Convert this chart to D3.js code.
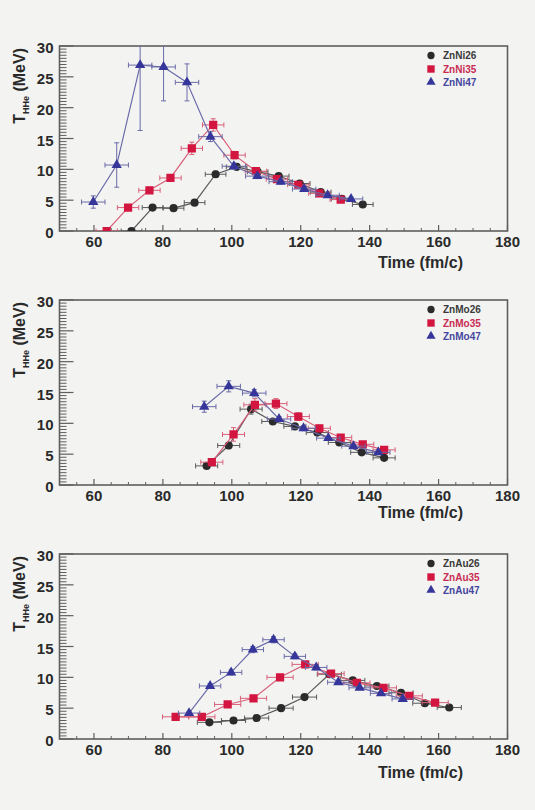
<!DOCTYPE html>
<head>
<meta charset="utf-8">
<title>THHe vs time</title>
<script src="https://d3js.org/d3.v7.min.js"></script>
</head>
<style>
body { margin: 0; background: #f3f4f2; }
svg { display: block; }
text { font-family: 'Liberation Sans', Arial, Helvetica, sans-serif; font-weight: bold; }
</style>
<body>
<svg></svg>
<script>
// ---- data ----
var timeTicks = [60, 80, 100, 120, 140, 160, 180];
var tempTicks = [0, 5, 10, 15, 20, 25, 30];

// ZnNi
var ni26Time = [70.9, 77.0, 83.1, 89.2, 95.3, 101.4, 107.5, 113.6, 119.7, 125.8, 131.9, 138.0];
var ni26Temp = [0.0, 3.8, 3.7, 4.6, 9.2, 10.4, 9.6, 8.9, 7.7, 6.3, 5.2, 4.3];
var ni26Err  = [0.2, 0.3, 0.3, 0.4, 0.5, 0.5, 0.4, 0.4, 0.4, 0.3, 0.3, 0.3];
var ni35Time = [63.7, 69.9, 76.1, 82.2, 88.4, 94.6, 100.8, 107.0, 113.1, 119.3, 125.4, 131.6];
var ni35Temp = [0.0, 3.8, 6.6, 8.6, 13.4, 17.2, 12.3, 9.7, 8.4, 7.5, 6.1, 5.1];
var ni35Err  = [0.2, 0.3, 0.5, 0.5, 1.0, 1.0, 0.6, 0.5, 0.4, 0.4, 0.3, 0.3];
var ni47Time = [59.8, 66.6, 73.4, 80.2, 87.0, 93.8, 100.6, 107.4, 114.2, 121.0, 127.8, 134.6];
var ni47Temp = [4.7, 10.7, 26.9, 26.6, 24.1, 15.3, 10.5, 8.9, 8.0, 6.8, 5.8, 5.2];
var ni47Err  = [1.0, 3.6, 10.6, 5.5, 3.0, 0.8, 0.5, 0.4, 0.4, 0.3, 0.3, 0.3];

// ZnMo
var mo26Time = [92.7, 99.1, 105.6, 111.9, 118.3, 124.8, 131.2, 137.7, 144.2];
var mo26Temp = [3.1, 6.4, 12.3, 10.3, 9.5, 8.5, 6.9, 5.3, 4.4];
var mo26Err  = [0.4, 0.5, 0.8, 0.4, 0.4, 0.4, 0.3, 0.3, 0.3];
var mo35Time = [94.2, 100.5, 106.7, 112.8, 119.3, 125.4, 131.6, 138.0, 144.2];
var mo35Temp = [3.7, 8.2, 13.0, 13.2, 11.1, 9.2, 7.7, 6.6, 5.7];
var mo35Err  = [0.5, 1.1, 1.0, 0.8, 0.6, 0.5, 0.4, 0.4, 0.4];
var mo47Time = [92.0, 99.1, 106.5, 113.7, 120.8, 128.0, 135.3, 142.5];
var mo47Temp = [12.7, 16.0, 14.9, 10.7, 9.2, 7.6, 6.3, 5.3];
var mo47Err  = [0.9, 0.9, 0.6, 0.4, 0.4, 0.3, 0.3, 0.3];

// ZnAu
var au26Time = [93.5, 100.5, 107.2, 114.3, 121.1, 128.3, 135.1, 142.1, 149.1, 156.0, 163.1];
var au26Temp = [2.7, 3.0, 3.4, 5.0, 6.8, 10.5, 9.5, 8.6, 7.5, 5.8, 5.1];
var au26Err  = [0.3, 0.3, 0.3, 0.3, 0.3, 0.4, 0.4, 0.3, 0.3, 0.3, 0.3];
var au35Time = [83.7, 91.3, 98.8, 106.3, 114.0, 121.3, 128.8, 136.3, 144.0, 151.5, 159.0];
var au35Temp = [3.6, 3.6, 5.6, 6.6, 10.0, 12.1, 10.6, 9.1, 8.3, 7.0, 5.9];
var au35Err  = [0.3, 0.3, 0.3, 0.3, 0.4, 0.4, 0.4, 0.3, 0.3, 0.3, 0.3];
var au47Time = [87.6, 93.7, 99.8, 106.1, 112.1, 118.3, 124.5, 130.9, 137.1, 143.3, 149.6];
var au47Temp = [4.2, 8.6, 10.8, 14.5, 16.1, 13.4, 11.6, 9.2, 8.3, 7.4, 6.5];
var au47Err  = [0.3, 0.4, 0.4, 0.5, 0.5, 0.4, 0.4, 0.3, 0.3, 0.3, 0.3];

var niNames = ['ZnNi26', 'ZnNi35', 'ZnNi47'];
var moNames = ['ZnMo26', 'ZnMo35', 'ZnMo47'];
var auNames = ['ZnAu26', 'ZnAu35', 'ZnAu47'];
// half width of the time bins (horizontal error bars)
var niTimeErr = [3.0, 3.1, 3.4];
var moTimeErr = [3.2, 3.2, 3.4];
var auTimeErr = [3.5, 3.8, 3.1];

// ---- styles ----
var styles = [
    { marker: '#2b2b2b', line: '#5a5a5a', text: '#3a3a3a', shape: 'circle' },
    { marker: '#d3163f', line: '#d9607a', text: '#c92c52', shape: 'square' },
    { marker: '#36369a', line: '#6a6aa8', text: '#4646a0', shape: 'triangle' }
];

var panels = [
    { top: 46,  labelY: 268, names: niNames, tErr: niTimeErr,
      series: [[ni26Time, ni26Temp, ni26Err], [ni35Time, ni35Temp, ni35Err], [ni47Time, ni47Temp, ni47Err]] },
    { top: 300, labelY: 518, names: moNames, tErr: moTimeErr,
      series: [[mo26Time, mo26Temp, mo26Err], [mo35Time, mo35Temp, mo35Err], [mo47Time, mo47Temp, mo47Err]] },
    { top: 554, labelY: 778, names: auNames, tErr: auTimeErr,
      series: [[au26Time, au26Temp, au26Err], [au35Time, au35Temp, au35Err], [au47Time, au47Temp, au47Err]] }
];

var vWidth = 535, vHeight = 810;
var left = 59.5, right = 507.5, plotH = 185;
var frameColor = '#5e5e5e';

var svg = d3.select('svg').attr('width', vWidth).attr('height', vHeight);
svg.append('rect').attr('width', vWidth).attr('height', vHeight).attr('fill', '#f3f4f2');

var x = d3.scaleLinear().domain([50, 180]).range([left, right]);

panels.forEach(function (p, pi) {
    var y = d3.scaleLinear().domain([0, 30]).range([p.top + plotH, p.top]);
    var g = svg.append('g');

    // clip for data
    svg.append('clipPath').attr('id', 'clip' + pi)
        .append('rect').attr('x', left).attr('y', p.top)
        .attr('width', right - left).attr('height', plotH);

    // y ticks (major every 5, minor every 0.5)
    var yMinor = d3.range(0, 30.01, 0.5).filter(function (v) { return v % 5 !== 0; });
    g.selectAll('.ymin').data(yMinor).enter().append('line')
        .attr('x1', left).attr('x2', left + 7)
        .attr('y1', function (d) { return y(d); }).attr('y2', function (d) { return y(d); })
        .attr('stroke', frameColor).attr('stroke-width', 1);
    g.selectAll('.ymaj').data(tempTicks).enter().append('line')
        .attr('x1', left).attr('x2', left + 14)
        .attr('y1', function (d) { return y(d); }).attr('y2', function (d) { return y(d); })
        .attr('stroke', frameColor).attr('stroke-width', 1.2);

    // x ticks (major every 20, minor every 5)
    var xMinor = d3.range(55, 180, 5).filter(function (v) { return timeTicks.indexOf(v) < 0; });
    g.selectAll('.xmin').data(xMinor).enter().append('line')
        .attr('x1', function (d) { return x(d); }).attr('x2', function (d) { return x(d); })
        .attr('y1', y(0)).attr('y2', y(0) - 3)
        .attr('stroke', frameColor).attr('stroke-width', 1);
    g.selectAll('.xmaj').data(timeTicks).enter().append('line')
        .attr('x1', function (d) { return x(d); }).attr('x2', function (d) { return x(d); })
        .attr('y1', y(0)).attr('y2', y(0) - 6)
        .attr('stroke', frameColor).attr('stroke-width', 1.2);

    // frame
    g.append('rect').attr('x', left).attr('y', p.top)
        .attr('width', right - left).attr('height', plotH)
        .attr('fill', 'none').attr('stroke', frameColor).attr('stroke-width', 1.6);

    // tick labels
    g.selectAll('.ylab').data(tempTicks).enter().append('text')
        .attr('x', left - 6).attr('y', function (d) { return y(d) + 7; })
        .attr('text-anchor', 'end').attr('font-size', 15).attr('fill', '#2a2a2a')
        .text(function (d) { return d; });
    g.selectAll('.xlab').data(timeTicks).enter().append('text')
        .attr('x', function (d) { return x(d); }).attr('y', y(0) + 16)
        .attr('text-anchor', 'middle').attr('font-size', 15).attr('fill', '#2a2a2a')
        .text(function (d) { return d; });

    // axis titles
    g.append('text').attr('x', 463).attr('y', p.labelY)
        .attr('text-anchor', 'end').attr('font-size', 16).attr('fill', '#2a2a2a')
        .text('Time (fm/c)');
    var yt = g.append('text').attr('transform', 'rotate(-90)')
        .attr('x', -(p.top + 2)).attr('y', 25)
        .attr('text-anchor', 'end').attr('font-size', 16).attr('fill', '#2a2a2a');
    yt.append('tspan').text('T');
    yt.append('tspan').attr('font-size', 9).attr('dy', 4).text('HHe');
    yt.append('tspan').attr('dy', -4).text(' (MeV)');

    // data series
    var dg = svg.append('g').attr('clip-path', 'url(#clip' + pi + ')');
    p.series.forEach(function (s, si) {
        var st = styles[si];
        var pts = s[0].map(function (t, i) { return { t: t, v: s[1][i], e: s[2][i] }; });
        var te = p.tErr[si];
        var sg = dg.append('g');

        sg.append('path').datum(pts)
            .attr('d', d3.line().x(function (d) { return x(d.t); }).y(function (d) { return y(d.v); }))
            .attr('fill', 'none').attr('stroke', st.line).attr('stroke-width', 1.2);

        var eb = sg.selectAll('.err').data(pts).enter().append('g')
            .attr('stroke', st.line).attr('stroke-width', 1);
        eb.append('line')
            .attr('x1', function (d) { return x(d.t - te); }).attr('x2', function (d) { return x(d.t + te); })
            .attr('y1', function (d) { return y(d.v); }).attr('y2', function (d) { return y(d.v); });
        eb.append('line')
            .attr('x1', function (d) { return x(d.t - te); }).attr('x2', function (d) { return x(d.t - te); })
            .attr('y1', function (d) { return y(d.v) - 2.5; }).attr('y2', function (d) { return y(d.v) + 2.5; });
        eb.append('line')
            .attr('x1', function (d) { return x(d.t + te); }).attr('x2', function (d) { return x(d.t + te); })
            .attr('y1', function (d) { return y(d.v) - 2.5; }).attr('y2', function (d) { return y(d.v) + 2.5; });
        eb.append('line')
            .attr('x1', function (d) { return x(d.t); }).attr('x2', function (d) { return x(d.t); })
            .attr('y1', function (d) { return y(d.v - d.e); }).attr('y2', function (d) { return y(d.v + d.e); });
        eb.append('line')
            .attr('x1', function (d) { return x(d.t) - 2.5; }).attr('x2', function (d) { return x(d.t) + 2.5; })
            .attr('y1', function (d) { return y(d.v + d.e); }).attr('y2', function (d) { return y(d.v + d.e); });
        eb.append('line')
            .attr('x1', function (d) { return x(d.t) - 2.5; }).attr('x2', function (d) { return x(d.t) + 2.5; })
            .attr('y1', function (d) { return y(d.v - d.e); }).attr('y2', function (d) { return y(d.v - d.e); });

        sg.selectAll('.mk').data(pts).enter().append('path')
            .attr('transform', function (d) { return 'translate(' + x(d.t) + ',' + y(d.v) + ')'; })
            .attr('d', markerPath(st.shape))
            .attr('fill', st.marker);
    });

    // legend
    var rows = [9.5, 23, 36];
    p.names.forEach(function (n, i) {
        var st = styles[i];
        var ly = p.top + rows[i];
        svg.append('path').attr('transform', 'translate(431,' + ly + ')')
            .attr('d', markerPath(st.shape, 0.8)).attr('fill', st.marker);
        svg.append('text').attr('x', 443).attr('y', ly + 3.6)
            .attr('font-size', 10).attr('fill', st.text).text(n);
    });
});

function markerPath(shape, k) {
    k = k || 1;
    if (shape === 'circle') return d3.symbol().type(d3.symbolCircle).size(52 * k)();
    if (shape === 'square') return d3.symbol().type(d3.symbolSquare).size(68 * k)();
    return d3.symbol().type(d3.symbolTriangle).size(46 * k)();
}
</script>
</body>
